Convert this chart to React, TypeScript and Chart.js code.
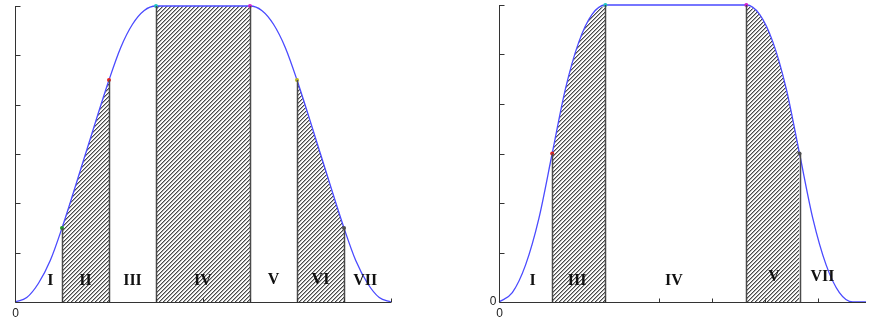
import React, { useEffect, useRef } from "react";
import { Chart, registerables } from "chart.js";

Chart.register(...registerables);

// ---- Left profile: seven-phase S-curve (time units 0..8, speed 0..6) ----
const leftTimes = [0, 0.25, 0.5, 0.75, 1, 1.5, 2, 2.25, 2.5, 2.75, 3, 4, 5, 5.25, 5.5, 5.75, 6, 6.5, 7, 7.25, 7.5, 7.75, 8];
const leftSpeed = [0, 0.09, 0.38, 0.84, 1.5, 3, 4.5, 5.16, 5.63, 5.91, 6, 6, 6, 5.91, 5.63, 5.16, 4.5, 3, 1.5, 0.84, 0.38, 0.09, 0];
const leftHatched: [number, number][] = [[1, 2], [3, 5], [6, 7]];
const leftMarkTimes = [1, 2, 3, 5, 6, 7];
const leftMarkSpeed = [1.5, 4.5, 6, 6, 4.5, 1.5];
const leftMarkColors = ["#1f9a2a", "#e02020", "#20c4c4", "#d020d0", "#b8b820", "#505050"];
const leftPhases = ["I", "II", "III", "IV", "V", "VI", "VII"];
const leftPhaseX = [0.75, 1.5, 2.5, 4, 5.5, 6.5, 7.45];
const leftPhaseY = [0.43, 0.43, 0.43, 0.43, 0.45, 0.45, 0.43];
const leftXTicks = [1, 2, 3, 4, 5, 6, 7, 8];
const leftYTicks = [0, 1, 2, 3, 4, 5, 6];

// ---- Right profile: five phases, no constant-jerk linear parts ----
const rightTimes = [0, 0.25, 0.5, 0.75, 1, 1.25, 1.5, 1.75, 2, 4.65, 4.9, 5.15, 5.4, 5.65, 5.9, 6.15, 6.4, 6.65, 6.9];
const rightSpeed = [0, 0.19, 0.75, 1.69, 3, 4.31, 5.25, 5.81, 6, 6, 5.81, 5.25, 4.31, 3, 1.69, 0.75, 0.19, 0, 0];
const rightHatched: [number, number][] = [[1, 2], [4.65, 5.65]];
const rightMarkTimes = [1, 2, 4.65, 5.65];
const rightMarkSpeed = [3, 6, 6, 3];
const rightMarkColors = ["#e02020", "#20c4c4", "#d020d0", "#505050"];
const rightPhases = ["I", "III", "IV", "V", "VII"];
const rightPhaseX = [0.63, 1.47, 3.29, 5.17, 6.08];
const rightPhaseY = [0.42, 0.42, 0.42, 0.5, 0.5];
const rightXTicks = [1, 2, 3, 4, 5, 6];
const rightYTicks = [0, 1, 2, 3, 4, 5, 6];

type Panel = {
  times: number[];
  speed: number[];
  hatched: [number, number][];
  markTimes: number[];
  markSpeed: number[];
  markColors: string[];
  phases: string[];
  phaseX: number[];
  phaseY: number[];
  xTicks: number[];
  yTicks: number[];
  xMax: number;
  padding: { left: number; right: number; top: number; bottom: number };
  yZeroLabel: boolean;
};

// diagonal "/" hatching used for the shaded phases
function makeHatch(): CanvasPattern | string {
  const tile = document.createElement("canvas");
  const n = 4;
  tile.width = n;
  tile.height = n;
  const c = tile.getContext("2d");
  if (!c) return "#aaa";
  const img = c.createImageData(n, n);
  const shades = [72, 168, 250, 255];
  for (let y = 0; y < n; y++) {
    for (let x = 0; x < n; x++) {
      const s = shades[(x + y) % n];
      const i = (y * n + x) * 4;
      img.data[i] = s;
      img.data[i + 1] = s;
      img.data[i + 2] = s;
      img.data[i + 3] = 255;
    }
  }
  c.putImageData(img, 0, 0);
  return c.createPattern(tile, "repeat") || "#aaa";
}

function buildChart(canvas: HTMLCanvasElement, p: Panel): Chart {
  const hatch = makeHatch();
  const curve = p.times.map((t, i) => ({ x: t, y: p.speed[i] }));
  const speedAt = (t: number) => {
    const i = p.times.indexOf(t);
    return i >= 0 ? p.speed[i] : 0;
  };

  const hatchSets = p.hatched.map(([a, b]) => ({
    type: "line" as const,
    data: curve.filter((pt) => pt.x >= a - 1e-9 && pt.x <= b + 1e-9),
    borderColor: "rgba(0,0,0,0)",
    borderWidth: 0,
    backgroundColor: hatch,
    fill: "origin",
    pointRadius: 0,
    cubicInterpolationMode: "monotone" as const,
    order: 3,
  }));

  const overlay = {
    id: "profileOverlay",
    afterDatasetsDraw(chart: Chart) {
      const ctx = chart.ctx;
      const xs = chart.scales.x;
      const ys = chart.scales.y;
      const area = chart.chartArea;
      ctx.save();

      // boundaries of the hatched phases
      ctx.strokeStyle = "#4a4a4a";
      ctx.lineWidth = 1.5;
      p.hatched.forEach(([a, b]) => {
        [a, b].forEach((t) => {
          const px = Math.round(xs.getPixelForValue(t)) + 0.5;
          ctx.beginPath();
          ctx.moveTo(px, ys.getPixelForValue(0));
          ctx.lineTo(px, ys.getPixelForValue(speedAt(t)));
          ctx.stroke();
        });
      });

      // axes
      ctx.strokeStyle = "#333";
      ctx.lineWidth = 1;
      const ax = Math.round(area.left) + 0.5;
      const ay = Math.round(ys.getPixelForValue(0)) + 0.5;
      ctx.beginPath();
      ctx.moveTo(ax, Math.round(ys.getPixelForValue(p.yTicks[p.yTicks.length - 1])));
      ctx.lineTo(ax, ay);
      ctx.lineTo(Math.round(area.right), ay);
      ctx.stroke();

      // inward tick marks
      ctx.beginPath();
      p.yTicks.forEach((v) => {
        const py = Math.round(ys.getPixelForValue(v)) + 0.5;
        ctx.moveTo(ax, py);
        ctx.lineTo(ax + 5, py);
      });
      p.xTicks.forEach((v) => {
        const px = Math.round(xs.getPixelForValue(v)) + 0.5;
        ctx.moveTo(px, ay);
        ctx.lineTo(px, ay - 4);
      });
      ctx.stroke();

      // zero labels
      ctx.fillStyle = "#222";
      ctx.font = '12px "Liberation Sans", Arial, sans-serif';
      ctx.textAlign = "center";
      ctx.textBaseline = "middle";
      ctx.fillText("0", ax, ay + 11);
      if (p.yZeroLabel) {
        ctx.textAlign = "right";
        ctx.fillText("0", ax - 3, ay - 1);
      }

      // phase names
      ctx.fillStyle = "#111";
      ctx.font = 'bold 16px "Liberation Serif", "Times New Roman", serif';
      ctx.textAlign = "center";
      ctx.textBaseline = "middle";
      p.phases.forEach((name, i) => {
        ctx.fillText(name, xs.getPixelForValue(p.phaseX[i]), ys.getPixelForValue(p.phaseY[i]));
      });
      ctx.restore();
    },
  };

  return new Chart(canvas, {
    type: "line",
    data: {
      datasets: [
        {
          type: "scatter",
          data: p.markTimes.map((t, i) => ({ x: t, y: p.markSpeed[i] })),
          pointRadius: 2,
          pointBorderWidth: 0,
          pointBackgroundColor: p.markColors,
          showLine: false,
          clip: false,
          order: 0,
        } as any,
        {
          data: curve,
          borderColor: "#4a4aff",
          borderWidth: 1.3,
          pointRadius: 0,
          fill: false,
          cubicInterpolationMode: "monotone",
          clip: 4,
          order: 1,
        },
        ...hatchSets,
      ],
    },
    options: {
      responsive: false,
      animation: false,
      events: [],
      layout: { padding: p.padding },
      plugins: { legend: { display: false }, tooltip: { enabled: false } },
      scales: {
        x: { type: "linear", min: 0, max: p.xMax, display: false },
        y: { type: "linear", min: 0, max: 6, display: false },
      },
    },
    plugins: [overlay],
  } as any);
}

const leftPanel: Panel = {
  times: leftTimes,
  speed: leftSpeed,
  hatched: leftHatched,
  markTimes: leftMarkTimes,
  markSpeed: leftMarkSpeed,
  markColors: leftMarkColors,
  phases: leftPhases,
  phaseX: leftPhaseX,
  phaseY: leftPhaseY,
  xTicks: leftXTicks,
  yTicks: leftYTicks,
  xMax: 8,
  padding: { left: 15, right: 39, top: 6, bottom: 19 },
  yZeroLabel: false,
};

const rightPanel: Panel = {
  times: rightTimes,
  speed: rightSpeed,
  hatched: rightHatched,
  markTimes: rightMarkTimes,
  markSpeed: rightMarkSpeed,
  markColors: rightMarkColors,
  phases: rightPhases,
  phaseX: rightPhaseX,
  phaseY: rightPhaseY,
  xTicks: rightXTicks,
  yTicks: rightYTicks,
  xMax: 6.9,
  padding: { left: 59, right: 0, top: 5, bottom: 19 },
  yZeroLabel: true,
};

export default function App() {
  const leftRef = useRef<HTMLCanvasElement>(null);
  const rightRef = useRef<HTMLCanvasElement>(null);

  useEffect(() => {
    const charts: Chart[] = [];
    if (leftRef.current) charts.push(buildChart(leftRef.current, leftPanel));
    if (rightRef.current) charts.push(buildChart(rightRef.current, rightPanel));
    return () => charts.forEach((c) => c.destroy());
  }, []);

  return (
    <div style={{ position: "fixed", left: 0, top: 0, width: 870, height: 321, background: "#fff" }}>
      <canvas ref={leftRef} width={430} height={321} style={{ position: "absolute", left: 0, top: 0, width: 430, height: 321 }} />
      <canvas ref={rightRef} width={430} height={321} style={{ position: "absolute", left: 440, top: 0, width: 430, height: 321 }} />
    </div>
  );
}
